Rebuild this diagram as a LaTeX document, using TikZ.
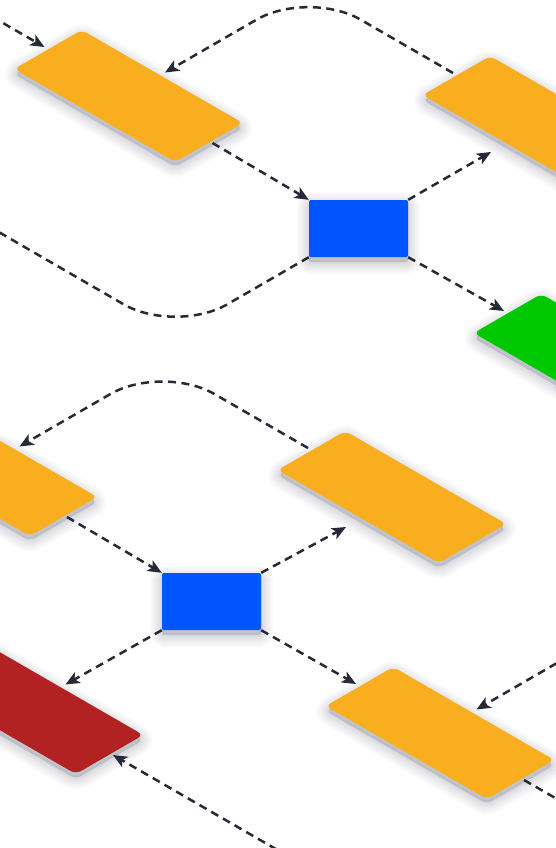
\documentclass[tikz,border=0pt]{standalone}
\usetikzlibrary{calc,arrows.meta}
\definecolor{tileorange}{RGB}{249,174,32}
\definecolor{tileblue}{RGB}{0,85,255}
\definecolor{tilegreen}{RGB}{0,200,0}
\definecolor{tilered}{RGB}{178,34,34}
\definecolor{linkcol}{RGB}{38,42,54}
\definecolor{shadowcol}{RGB}{30,35,60}
\tikzset{
  iso/.style={cm={0.866,-0.5,0.866,0.5,(0,0)}},
  shlayer/.style n args={2}{preaction={draw=shadowcol, fill=shadowcol, draw opacity=#1, fill opacity=#1, line width=#2, line join=round,
      transform canvas={yshift=-5pt}}},
  softshadow/.style={
    shlayer={0.025}{24pt},
    shlayer={0.03}{19pt},
    shlayer={0.03}{14pt},
    shlayer={0.035}{9pt},
    shlayer={0.035}{4pt}},
  tile/.style={transform shape, rectangle, rounded corners=6pt, minimum width=186pt, minimum height=78pt, inner sep=0pt, draw=none,
    softshadow},
  hub/.style={rectangle, rounded corners=2pt, minimum width=99pt, minimum height=57pt, inner sep=0pt, fill=tileblue, draw=none,
    softshadow},
  link/.style={draw=linkcol, line width=2.5pt, dash pattern=on 8pt off 5.5pt},
  arr/.style={-{Stealth[length=14pt,width=12pt,inset=3.5pt]}},
}
\begin{document}
\begin{tikzpicture}[x=1pt,y=-1pt]
\useasboundingbox (0,0) rectangle (556,848);
\fill[white] (0,0) rectangle (556,848);
\coordinate (in1) at (-20,9.8);
\coordinate (peak1) at (308.6,-10.4);
\coordinate (valley1) at (175.4,334.3);
\coordinate (out1) at (-20,221.2);
\coordinate (peak2) at (162.4,364.0);
\coordinate (in2) at (300,863);
\coordinate (in3) at (580,649.7);
\coordinate (out2) at (580,812.3);
% tile centres
\coordinate (ctlo) at (128.5,96);
\coordinate (ctro) at (537,122);
\coordinate (cgrn) at (588,360);
\coordinate (cmlo) at (-17,470);
\coordinate (cmro) at (392,497);
\coordinate (cbro) at (440,733);
\coordinate (cred) at (29,708);
% ---------- tiles
\begin{scope}[shift={(ctlo)}, iso]\node[tile, fill=tileorange] (tlo) {};\end{scope}
\begin{scope}[shift={(ctro)}, iso]\node[tile, fill=tileorange] (tro) {};\end{scope}
\begin{scope}[shift={(cgrn)}, iso]\node[tile, fill=tilegreen] (grn) {};\end{scope}
\begin{scope}[shift={(cmlo)}, iso]\node[tile, fill=tileorange] (mlo) {};\end{scope}
\begin{scope}[shift={(cmro)}, iso]\node[tile, fill=tileorange] (mro) {};\end{scope}
\begin{scope}[shift={(cbro)}, iso]\node[tile, fill=tileorange] (bro) {};\end{scope}
\begin{scope}[shift={(cred)}, iso]\node[tile, fill=tilered] (red) {};\end{scope}
\node[hub] (hub1) at (358.5,228.5) {};
\node[hub] (hub2) at (211.5,601.5) {};
% ---------- connectors
\draw[link,arr] (in1) -- ($(tlo.center)+(-84,-49)$);
\draw[link,arr,rounded corners=60pt] ($(tro.center)+(-84,-49)$) -- (peak1) -- ($(tlo.center)+(36.5,-23.5)$);
\draw[link,arr] ($(tlo.center)+(84,47)$) -- (hub1.north west);
\draw[link,arr] (hub1.north east) -- ($(tro.center)+(-46,30)$);
\draw[link,arr] (hub1.south east) -- ($(grn.center)+(-84,-49)$);
\draw[link,rounded corners=60pt] (hub1.south west) -- (valley1) -- (out1);
\draw[link,arr,rounded corners=60pt] ($(mro.center)+(-84,-49)$) -- (peak2) -- ($(mlo.center)+(36.5,-23.5)$);
\draw[link,arr] ($(mlo.center)+(84,47)$) -- (hub2.north west);
\draw[link,arr] (hub2.north east) -- ($(mro.center)+(-46,30)$);
\draw[link,arr] (hub2.south east) -- ($(bro.center)+(-84,-49)$);
\draw[link,arr] (hub2.south west) -- ($(red.center)+(36.5,-23.5)$);
\draw[link,arr] (in2) -- ($(red.center)+(84,47)$);
\draw[link,arr] (in3) -- ($(bro.center)+(36.5,-23.5)$);
\draw[link] ($(bro.center)+(84,47)$) -- (out2);
\end{tikzpicture}
\end{document}
